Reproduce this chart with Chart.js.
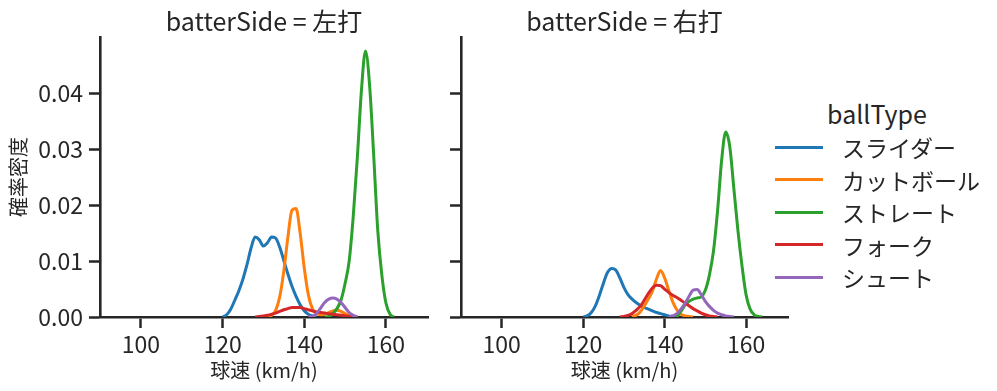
<!DOCTYPE html>
<html>
<head>
<meta charset="utf-8">
<script src="https://cdn.jsdelivr.net/npm/chart.js@4.4.0/dist/chart.umd.min.js"></script>
<style>
    body { margin: 0; background: #fff; }
    #wrap { position: relative; width: 997px; height: 391px; font-family: "Noto Sans CJK JP", sans-serif; color: #262626; }
    canvas { position: absolute; top: 0; }
    #leftPanel { left: 0; }
    #rightPanel { left: 440px; }
    .legend-title { position: absolute; font-size: 25px; line-height: 30px; transform: translate(-50%, -50%); white-space: nowrap; }
    .legend-row { position: absolute; left: 775px; height: 30px; transform: translateY(-50%); display: flex; align-items: center; white-space: nowrap; }
    .legend-row span.swatch { display: inline-block; width: 48px; height: 3px; margin-right: 19px; }
    .legend-row span.label { font-size: 23px; line-height: 30px; }
</style>
</head>
<body>
<div id="wrap">
    <canvas id="leftPanel" width="440" height="391"></canvas>
    <canvas id="rightPanel" width="360" height="391"></canvas>
    <div id="legend"></div>
</div>
<script>
// speed grid (km/h) shared by every curve; null = outside the curve's support
const speeds = [118, 119, 120, 121, 122, 123, 124, 125, 126, 127, 128, 129, 130, 131, 132, 133, 134, 135, 136, 137, 138, 139, 140,
    141, 142, 143, 144, 145, 146, 147, 148, 149, 150, 151, 152, 153, 154, 155, 156, 157, 158, 159, 160, 161, 162, 163, 164];

const ballTypes = ['スライダー', 'カットボール', 'ストレート', 'フォーク', 'シュート'];
const colors = ['#1f77b4', '#ff7f0e', '#2ca02c', '#d62728', '#9467bd'];
const panelTitles = ['batterSide = 左打', 'batterSide = 右打'];

const xTicks = [100, 120, 140, 160];
const yTicks = [0, 0.01, 0.02, 0.03, 0.04];

const n = null;
// 左打
const leftSlider = [n, n, 0, 0.0004, 0.0014, 0.0030, 0.0047, 0.0068, 0.0094, 0.0124, 0.0143, 0.0138, 0.0127, 0.0133, 0.0143, 0.0141,
    0.0125, 0.0101, 0.0077, 0.0055, 0.0037, 0.0022, 0.0011, 0.0005, 0.0002, 0, n, n, n, n, n, n, n, n, n, n, n, n, n, n, n, n, n, n, n, n, n];
const leftCutter = [n, n, n, n, n, n, n, n, n, n, n, n, n, 0, 0.0003, 0.0012, 0.0036, 0.0082, 0.0143, 0.0191, 0.0194, 0.0150, 0.0088,
    0.0040, 0.0015, 0.0006, 0.0004, 0.0005, 0.0008, 0.0011, 0.0012, 0.0010, 0.0006, 0.0003, 0.0001, 0, n, n, n, n, n, n, n, n, n, n, n];
const leftStraight = [n, n, n, n, n, n, n, n, n, n, n, n, n, n, n, n, n, n, n, n, n, n, n, n, n, n, n, 0, 0.0001, 0.0006, 0.0015,
    0.0030, 0.0060, 0.0100, 0.0180, 0.0285, 0.0405, 0.0476, 0.0415, 0.0290, 0.0155, 0.0075, 0.0025, 0.0005, 0, n, n];
const leftFork = [n, n, n, n, n, n, n, n, n, n, 0, 0.0001, 0.0002, 0.0003, 0.0005, 0.0007, 0.0010, 0.0013, 0.0015, 0.0017, 0.0017,
    0.0017, 0.0015, 0.0013, 0.0011, 0.0009, 0.0008, 0.0007, 0.0006, 0.0005, 0.0004, 0.0003, 0.0002, 0.0001, 0, n, n, n, n, n, n, n, n, n, n, n, n];
const leftShoot = [n, n, n, n, n, n, n, n, n, n, n, n, n, n, n, n, n, n, n, n, n, n, n, 0, 0.0001, 0.0006, 0.0016, 0.0026, 0.0032,
    0.0034, 0.0032, 0.0026, 0.0017, 0.0008, 0.0003, 0, n, n, n, n, n, n, n, n, n, n, n];
// 右打
const rightSlider = [n, n, 0, 0.0002, 0.0008, 0.0020, 0.0039, 0.0061, 0.0080, 0.0087, 0.0084, 0.0070, 0.0053, 0.0040, 0.0032, 0.0026,
    0.0021, 0.0017, 0.0014, 0.0011, 0.0008, 0.0006, 0.0004, 0.0002, 0.0001, 0, n, n, n, n, n, n, n, n, n, n, n, n, n, n, n, n, n, n, n, n, n];
const rightCutter = [n, n, n, n, n, n, n, n, n, n, n, n, n, n, 0, 0.0003, 0.0009, 0.0020, 0.0032, 0.0046, 0.0068, 0.0083, 0.0070,
    0.0048, 0.0027, 0.0013, 0.0005, 0.0002, 0.0001, 0, n, n, n, n, n, n, n, n, n, n, n, n, n, n, n, n, n];
const rightStraight = [n, n, n, n, n, n, n, n, n, n, n, n, n, n, n, n, n, n, n, n, n, n, n, n, n, 0, 0.0010, 0.0021, 0.0028, 0.0032,
    0.0034, 0.0036, 0.0048, 0.0075, 0.0118, 0.0190, 0.0280, 0.0331, 0.0305, 0.0230, 0.0155, 0.0092, 0.0040, 0.0014, 0.0004, 0.0001, 0];
const rightFork = [n, n, n, n, n, n, n, n, n, n, n, 0, 0.0001, 0.0003, 0.0006, 0.0012, 0.0019, 0.0030, 0.0042, 0.0052, 0.0057, 0.0056,
    0.0050, 0.0044, 0.0039, 0.0035, 0.0030, 0.0025, 0.0020, 0.0015, 0.0011, 0.0007, 0.0004, 0.0002, 0.0001, 0, n, n, n, n, n, n, n, n, n, n, n];
const rightShoot = [n, n, n, n, n, n, n, n, n, n, n, n, n, n, n, n, n, n, n, n, n, n, n, 0, 0.0002, 0.0006, 0.0014, 0.0024, 0.0037,
    0.0048, 0.0049, 0.0040, 0.0028, 0.0019, 0.0012, 0.0007, 0.0004, 0.0002, 0.0001, 0, n, n, n, n, n, n, n];

const leftSeries = [leftSlider, leftCutter, leftStraight, leftFork, leftShoot];
const rightSeries = [rightSlider, rightCutter, rightStraight, rightFork, rightShoot];

const ink = '#262626';
Chart.defaults.font.family = '"Noto Sans CJK JP", sans-serif';
Chart.defaults.color = ink;

function makeDatasets(series) {
    return series.map((vals, i) => ({
        label: ballTypes[i],
        data: speeds.map((s, j) => ({ x: s, y: vals[j] })),
        borderColor: colors[i],
        backgroundColor: colors[i],
        borderWidth: 3,
        pointRadius: 0,
        cubicInterpolationMode: 'monotone',
        spanGaps: false,
        order: -i
    }));
}

function makePanel(canvasId, title, series, showYLabels, yAxisWidth) {
    const ctx = document.getElementById(canvasId).getContext('2d');
    return new Chart(ctx, {
        type: 'line',
        data: { datasets: makeDatasets(series) },
        options: {
            responsive: false,
            animation: false,
            layout: { padding: { left: 0, right: 12, top: 0, bottom: 0 } },
            plugins: {
                legend: { display: false },
                tooltip: { enabled: false },
                title: {
                    display: true,
                    text: title,
                    fullSize: false,
                    color: ink,
                    font: { size: 25, weight: 'normal' },
                    padding: { top: 6, bottom: 1 }
                }
            },
            scales: {
                x: {
                    type: 'linear',
                    min: 90,
                    max: 170.3,
                    afterBuildTicks: s => { s.ticks = xTicks.map(v => ({ value: v })); },
                    afterFit: s => { s.height = 74; },
                    grid: { display: true, drawOnChartArea: false, drawTicks: true, tickLength: 11, tickWidth: 2.5, tickColor: ink },
                    border: { display: true, color: ink, width: 2.6 },
                    ticks: { font: { size: 23 }, color: ink, padding: 2, maxRotation: 0 },
                    title: { display: true, text: '球速 (km/h)', color: ink, font: { size: 20 }, padding: { top: 0, bottom: 9 } }
                },
                y: {
                    min: 0,
                    max: 0.0501,
                    afterBuildTicks: s => { s.ticks = yTicks.map(v => ({ value: v })); },
                    afterFit: s => { s.width = yAxisWidth; },
                    grid: { display: true, drawOnChartArea: false, drawTicks: true, tickLength: 11, tickWidth: 2.5, tickColor: ink },
                    border: { display: true, color: ink, width: 2.6 },
                    ticks: {
                        font: { size: 23 },
                        color: ink,
                        padding: 6,
                        callback: v => showYLabels ? v.toFixed(2) : ''
                    },
                    title: { display: showYLabels, text: '確率密度', color: ink, font: { size: 20 }, padding: { top: 6, bottom: 0 } }
                }
            }
        }
    });
}

makePanel('leftPanel', panelTitles[0], leftSeries, true, 100);
makePanel('rightPanel', panelTitles[1], rightSeries, false, 21);

// legend for ballType, drawn beside the right panel
const legend = document.getElementById('legend');
const titleEl = document.createElement('div');
titleEl.className = 'legend-title';
titleEl.textContent = 'ballType';
titleEl.style.left = '877px';
titleEl.style.top = '113px';
legend.appendChild(titleEl);
ballTypes.forEach((name, i) => {
    const row = document.createElement('div');
    row.className = 'legend-row';
    row.style.top = (147 + i * 32.5) + 'px';
    row.innerHTML = `<span class="swatch" style="background:${colors[i]}"></span><span class="label">${name}</span>`;
    legend.appendChild(row);
});
</script>
</body>
</html>
